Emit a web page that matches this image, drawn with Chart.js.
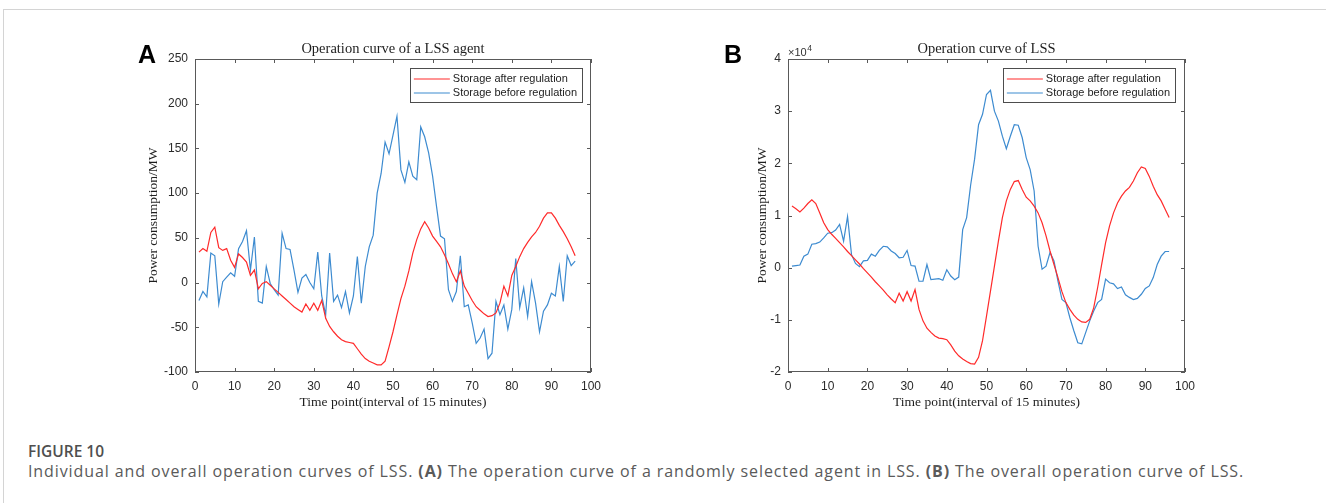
<!DOCTYPE html>
<html>
<head>
<meta charset="utf-8">
<script src="https://cdn.jsdelivr.net/npm/chart.js@4.4.0/dist/chart.umd.min.js"></script>
<style>
    body { margin: 0; background: #fff; width: 1326px; height: 503px; overflow: hidden; position: relative; }
    #frame { position: absolute; left: 3px; top: 9px; right: 0; bottom: 0; border-left: 1px solid #d4d4d4; border-top: 1px solid #d4d4d4; }
    .panel { position: absolute; top: 30px; }
    #capTitle { position: absolute; left: 28px; top: 440px; font: 600 15.5px "Open Sans", sans-serif; color: #4f4f4f; }
    #capText { position: absolute; left: 28px; top: 460px; font: 400 16px "Open Sans", sans-serif; letter-spacing: 0.9px; color: #5a5a5a; white-space: nowrap; }
    #capText b { font-weight: 700; }
</style>
</head>
<body>
<div id="frame"></div>
<div class="panel" style="left:100px"><canvas id="chartA" width="520" height="400"></canvas></div>
<div class="panel" style="left:693px"><canvas id="chartB" width="521" height="400"></canvas></div>
<div id="capTitle">FIGURE 10</div>
<div id="capText">Individual and overall operation curves of LSS. <b>(A)</b> The operation curve of a randomly selected agent in LSS. <b>(B)</b> The overall operation curve of LSS.</div>

<script>
// Time points (15 minute intervals)
const timePoints = Array.from({ length: 96 }, (_, i) => i + 1);

// Panel A: one LSS agent (MW)
const agentAfter = [
    34, 38, 35, 56, 62, 39, 36, 38, 25, 17,
    32, 28, 23, 8, 14, -7, -1, 1, -3, -7,
    -11, -15, -19, -23, -27, -30, -33, -24, -31, -23,
    -31, -20, -40, -49, -55, -60, -64, -66, -67, -68,
    -74, -80, -85, -88, -90, -92, -92, -88, -72, -55,
    -36, -18, -4, 13, 33, 48, 60, 68, 61, 52,
    46, 40, 31, 21, 10, 1, 13, -4, -12, -20,
    -27, -31, -35, -38, -37, -34, -23, -4, -15, 8,
    18, 29, 38, 45, 51, 56, 63, 72, 78, 78,
    72, 64, 57, 49, 40, 30
];
const agentBefore = [
    -20, -10, -16, 33, 30, -24, 1, 6, 11, 7,
    38, 46, 58, 14, 51, -21, -23, 18, -1, -8,
    -14, 55, 38, 37, 14, -11, 5, 9, 0, -7,
    34, -15, -36, 33, -21, -14, -28, -10, -34, -15,
    29, -23, 18, 40, 53, 100, 122, 157, 144, 165,
    186, 126, 112, 135, 119, 115, 174, 163, 145, 119,
    85, 52, 49, -8, -21, -10, 30, -27, -25, -45,
    -68, -62, -52, -85, -79, -21, -36, -25, -52, -30,
    27, -28, -6, -38, 1, -23, -55, -32, -25, -12,
    -15, 18, -21, 30, 19, 24
];

// Panel B: whole LSS (MW)
const totalAfter = [
    11800, 11300, 10700, 11400, 12300, 13000, 12300, 10500, 8600, 7300,
    6400, 5600, 4800, 4000, 3100, 2300, 1500, 700, -200, -1000,
    -1800, -2700, -3500, -4300, -5200, -6000, -6700, -4900, -6400, -4600,
    -6400, -4200, -8000, -10200, -11600, -12400, -13100, -13500, -13600, -13800,
    -14800, -16000, -16900, -17500, -18000, -18400, -18500, -17200, -14000, -9300,
    -4500, 300, 5100, 9600, 12800, 15000, 16500, 16700, 15000, 13500,
    12800, 11800, 10500, 8600, 6100, 3200, 600, -1900, -4600, -6700,
    -8000, -9100, -9900, -10400, -10500, -9900, -7700, -3800, 600, 4800,
    8000, 10500, 12400, 13700, 14700, 15400, 16600, 18200, 19300, 19000,
    17500, 15600, 14000, 12800, 11200, 9600
];
const totalBefore = [
    300, 400, 500, 2200, 2600, 4500, 4600, 4900, 5700, 6600,
    6700, 7200, 8300, 5100, 9800, 2500, 800, 200, 1300, 1400,
    2600, 2200, 3300, 4100, 4000, 3200, 2700, 1900, 2000, 3300,
    400, 300, -2600, -2600, 600, -2300, -2200, -2100, -2400, -400,
    -1600, -2300, -1800, 7300, 9600, 15800, 20800, 27400, 29400, 33200,
    34000, 30000, 28100, 25200, 22800, 25200, 27400, 27300, 24900, 21100,
    18800, 14700, 4100, -300, 300, 2900, 1300, -2600, -6100, -6700,
    -9600, -12100, -14400, -14600, -12400, -10200, -8300, -6700, -6100, -2200,
    -2900, -3100, -4000, -3700, -5200, -5700, -6100, -5900, -5100, -4000,
    -3500, -1900, 600, 2200, 3100, 3100
];

const seriesNames = ['Storage after regulation', 'Storage before regulation'];
const xAxisRange = [0, 100, 10];
const agentAxisRange = [-100, 250, 50];
const totalAxisRange = [-20000, 40000, 10000];

const RED = '#ff2a2a';
const BLUE = '#3d8bd0';
const SERIF = '"Liberation Serif", "Times New Roman", serif';
const SANS = '"Liberation Sans", Arial, sans-serif';

// MATLAB-like decorations: box, inner ticks, title, legend, panel letter
const matlabDecor = {
    id: 'matlabDecor',
    afterDatasetsDraw(chart, args, opts) {
        const { ctx, chartArea: a, scales: { x, y } } = chart;
        ctx.save();

        // axes box and inward ticks
        ctx.strokeStyle = '#595959';
        ctx.lineWidth = 1;
        ctx.strokeRect(a.left + 0.5, a.top + 0.5, a.right - a.left - 1, a.bottom - a.top - 1);
        ctx.beginPath();
        x.ticks.forEach(t => {
            const px = Math.round(x.getPixelForValue(t.value)) + 0.5;
            ctx.moveTo(px, a.bottom); ctx.lineTo(px, a.bottom - 4);
            ctx.moveTo(px, a.top); ctx.lineTo(px, a.top + 4);
        });
        y.ticks.forEach(t => {
            const py = Math.round(y.getPixelForValue(t.value)) + 0.5;
            ctx.moveTo(a.left, py); ctx.lineTo(a.left + 4, py);
            ctx.moveTo(a.right, py); ctx.lineTo(a.right - 4, py);
        });
        ctx.stroke();

        // title
        ctx.fillStyle = '#1e1e1e';
        ctx.font = '14.5px ' + SERIF;
        ctx.textAlign = 'center';
        ctx.textBaseline = 'alphabetic';
        ctx.fillText(opts.title, (a.left + a.right) / 2, a.top - 6);

        // panel letter
        ctx.fillStyle = '#000';
        ctx.font = 'bold 25px ' + SANS;
        ctx.textAlign = 'left';
        ctx.fillText(opts.letter, a.left + opts.letterDx, a.top + 4);

        // exponent label
        if (opts.exponent) {
            ctx.fillStyle = '#333';
            ctx.font = '11px ' + SANS;
            ctx.fillText('\u00d710', a.left, a.top - 3);
            const w = ctx.measureText('\u00d710').width;
            ctx.font = '8.5px ' + SANS;
            ctx.fillText(opts.exponent, a.left + w + 0.5, a.top - 8);
        }

        // legend
        ctx.font = '11px ' + SANS;
        const textW = Math.max(...chart.data.datasets.map(d => ctx.measureText(d.label).width));
        const boxW = 4 + 36 + 3 + textW + 5;
        const boxH = 34;
        const bx = a.right - opts.legendInset - boxW;
        const by = a.top + 9;
        ctx.fillStyle = '#fff';
        ctx.fillRect(bx, by, boxW, boxH);
        ctx.strokeStyle = '#4d4d4d';
        ctx.strokeRect(Math.round(bx) + 0.5, by + 0.5, Math.round(boxW), boxH);
        chart.data.datasets.forEach((d, i) => {
            const ry = by + 11 + i * 14;
            ctx.strokeStyle = d.borderColor;
            ctx.lineWidth = 1.2;
            ctx.beginPath();
            ctx.moveTo(bx + 4, ry); ctx.lineTo(bx + 40, ry);
            ctx.stroke();
            ctx.fillStyle = '#222';
            ctx.textBaseline = 'middle';
            ctx.fillText(d.label, bx + 43, ry);
        });
        ctx.restore();
    }
};

function makeChart(canvasId, after, before, yRange, decor, yTitlePad, tickFormat) {
    const ctx = document.getElementById(canvasId).getContext('2d');
    return new Chart(ctx, {
        type: 'line',
        data: {
            datasets: [
                { label: seriesNames[0], data: timePoints.map((t, i) => ({ x: t, y: after[i] })), borderColor: RED },
                { label: seriesNames[1], data: timePoints.map((t, i) => ({ x: t, y: before[i] })), borderColor: BLUE }
            ].map(d => Object.assign(d, { borderWidth: 1.2, pointRadius: 0, tension: 0, fill: false }))
        },
        options: {
            responsive: false,
            animation: false,
            layout: { padding: { top: 29, right: 29, left: 0, bottom: 0 } },
            plugins: {
                legend: { display: false },
                title: { display: false },
                tooltip: { enabled: false },
                matlabDecor: decor
            },
            scales: {
                x: {
                    type: 'linear',
                    min: xAxisRange[0],
                    max: xAxisRange[1],
                    grid: { display: false, drawTicks: false },
                    border: { display: false },
                    ticks: { stepSize: xAxisRange[2], padding: 7, color: '#2b2b2b', font: { family: SANS, size: 12 }, maxRotation: 0 },
                    title: { display: true, text: 'Time point(interval of 15 minutes)', color: '#1e1e1e', font: { family: SERIF, size: 13.5 }, padding: { top: 0, bottom: 19 } },
                    afterFit: s => { s.height = 58; }
                },
                y: {
                    min: yRange[0],
                    max: yRange[1],
                    grid: { display: false, drawTicks: false },
                    border: { display: false },
                    ticks: { stepSize: yRange[2], padding: 7, color: '#2b2b2b', font: { family: SANS, size: 12 }, callback: tickFormat },
                    title: { display: true, text: 'Power consumption/MW', color: '#1e1e1e', font: { family: SERIF, size: 13.5 }, padding: { top: yTitlePad, bottom: 0 } },
                    afterFit: s => { s.width = 95; }
                }
            }
        },
        plugins: [matlabDecor]
    });
}

makeChart('chartA', agentAfter, agentBefore, agentAxisRange,
    { title: 'Operation curve of a LSS agent', letter: 'A', letterDx: -57, legendInset: 9 },
    45, v => v);
makeChart('chartB', totalAfter, totalBefore, totalAxisRange,
    { title: 'Operation curve of LSS', letter: 'B', letterDx: -64, legendInset: 10, exponent: '4' },
    61, v => v / 10000);
</script>
</body>
</html>
